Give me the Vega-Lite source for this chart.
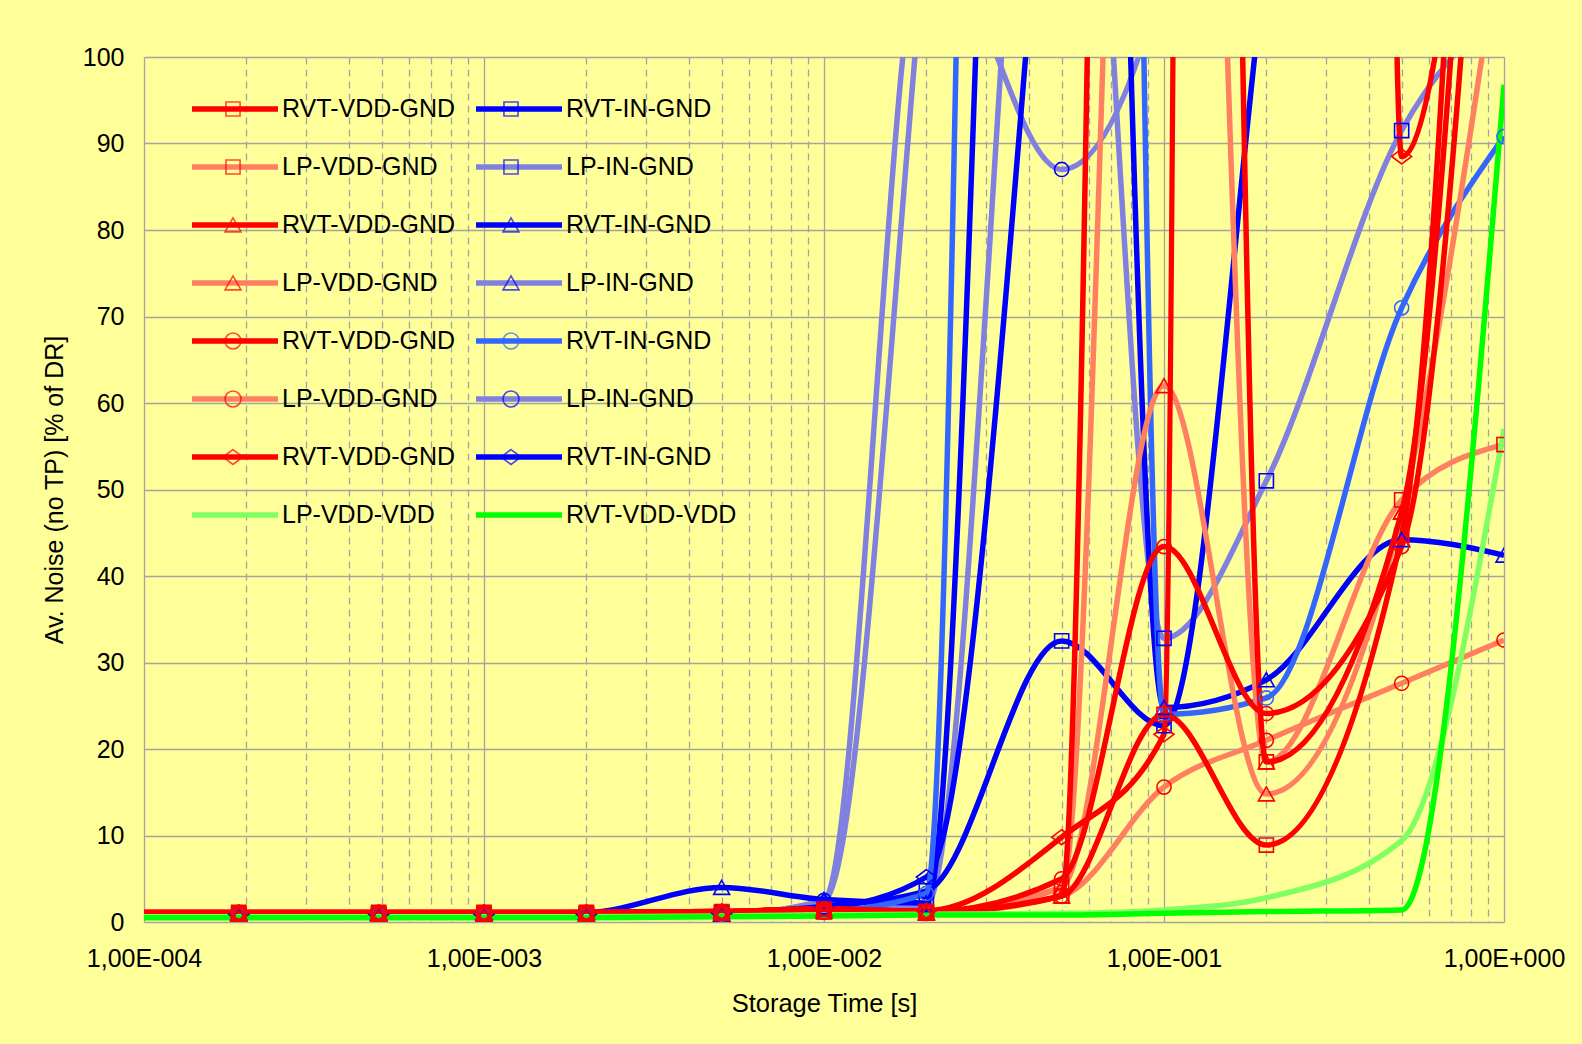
{
  "$schema": "https://vega.github.io/schema/vega-lite/v6.json",
  "autosize": "none",
  "width": 1360,
  "height": 865,
  "padding": {"left": 144, "top": 57, "right": 78, "bottom": 122},
  "background": "#FFFF99",
  "config": {
    "font": "Liberation Sans",
    "view": {"stroke": null},
    "axis": {"labelColor": "#000000", "titleColor": "#000000"}
  },
  "datasets": {
    "series": [
      {"s":"LP-IN-GND|sq","t":0.0001,"v":0.8},{"s":"LP-IN-GND|sq","t":0.00019,"v":0.8},{"s":"LP-IN-GND|sq","t":0.00049,"v":0.8},{"s":"LP-IN-GND|sq","t":0.001,"v":0.8},{"s":"LP-IN-GND|sq","t":0.002,"v":0.8},{"s":"LP-IN-GND|sq","t":0.005,"v":0.9},{"s":"LP-IN-GND|sq","t":0.01,"v":1.2},{"s":"LP-IN-GND|sq","t":0.02,"v":2.0},{"s":"LP-IN-GND|sq","t":0.05,"v":170},{"s":"LP-IN-GND|sq","t":0.1,"v":32.8},{"s":"LP-IN-GND|sq","t":0.2,"v":51},{"s":"LP-IN-GND|sq","t":0.5,"v":91.5},{"s":"LP-IN-GND|sq","t":1,"v":106},
      {"s":"LP-IN-GND|tri","t":0.0001,"v":0.8},{"s":"LP-IN-GND|tri","t":0.00019,"v":0.8},{"s":"LP-IN-GND|tri","t":0.00049,"v":0.8},{"s":"LP-IN-GND|tri","t":0.001,"v":0.8},{"s":"LP-IN-GND|tri","t":0.002,"v":0.8},{"s":"LP-IN-GND|tri","t":0.005,"v":0.9},{"s":"LP-IN-GND|tri","t":0.01,"v":2.4},{"s":"LP-IN-GND|tri","t":0.02,"v":115},{"s":"LP-IN-GND|tri","t":0.05,"v":300},{"s":"LP-IN-GND|tri","t":0.1,"v":400},{"s":"LP-IN-GND|tri","t":0.2,"v":500},{"s":"LP-IN-GND|tri","t":0.5,"v":600},{"s":"LP-IN-GND|tri","t":1,"v":700},
      {"s":"LP-IN-GND|circ","t":0.0001,"v":0.8},{"s":"LP-IN-GND|circ","t":0.00019,"v":0.8},{"s":"LP-IN-GND|circ","t":0.00049,"v":0.8},{"s":"LP-IN-GND|circ","t":0.001,"v":0.8},{"s":"LP-IN-GND|circ","t":0.002,"v":0.8},{"s":"LP-IN-GND|circ","t":0.005,"v":0.9},{"s":"LP-IN-GND|circ","t":0.01,"v":2.5},{"s":"LP-IN-GND|circ","t":0.02,"v":115},{"s":"LP-IN-GND|circ","t":0.05,"v":87},{"s":"LP-IN-GND|circ","t":0.1,"v":110},{"s":"LP-IN-GND|circ","t":0.2,"v":200},{"s":"LP-IN-GND|circ","t":0.5,"v":300},{"s":"LP-IN-GND|circ","t":1,"v":400},
      {"s":"RVT-IN-GND|sq","t":0.0001,"v":0.9},{"s":"RVT-IN-GND|sq","t":0.00019,"v":0.9},{"s":"RVT-IN-GND|sq","t":0.00049,"v":0.9},{"s":"RVT-IN-GND|sq","t":0.001,"v":0.9},{"s":"RVT-IN-GND|sq","t":0.002,"v":0.9},{"s":"RVT-IN-GND|sq","t":0.005,"v":1.1},{"s":"RVT-IN-GND|sq","t":0.01,"v":1.8},{"s":"RVT-IN-GND|sq","t":0.02,"v":3.6},{"s":"RVT-IN-GND|sq","t":0.05,"v":32.5},{"s":"RVT-IN-GND|sq","t":0.1,"v":22.7},{"s":"RVT-IN-GND|sq","t":0.2,"v":112},{"s":"RVT-IN-GND|sq","t":0.5,"v":250},{"s":"RVT-IN-GND|sq","t":1,"v":400},
      {"s":"RVT-IN-GND|tri","t":0.0001,"v":1.0},{"s":"RVT-IN-GND|tri","t":0.00019,"v":1.0},{"s":"RVT-IN-GND|tri","t":0.00049,"v":1.0},{"s":"RVT-IN-GND|tri","t":0.001,"v":1.0},{"s":"RVT-IN-GND|tri","t":0.002,"v":1.1},{"s":"RVT-IN-GND|tri","t":0.005,"v":4.0},{"s":"RVT-IN-GND|tri","t":0.01,"v":2.6},{"s":"RVT-IN-GND|tri","t":0.02,"v":2.2},{"s":"RVT-IN-GND|tri","t":0.05,"v":325},{"s":"RVT-IN-GND|tri","t":0.1,"v":24.8},{"s":"RVT-IN-GND|tri","t":0.2,"v":28},{"s":"RVT-IN-GND|tri","t":0.5,"v":44.2},{"s":"RVT-IN-GND|tri","t":1,"v":42.4},
      {"s":"RVT-IN-GND|dia","t":0.0001,"v":0.9},{"s":"RVT-IN-GND|dia","t":0.00019,"v":0.9},{"s":"RVT-IN-GND|dia","t":0.00049,"v":0.9},{"s":"RVT-IN-GND|dia","t":0.001,"v":0.9},{"s":"RVT-IN-GND|dia","t":0.002,"v":0.9},{"s":"RVT-IN-GND|dia","t":0.005,"v":1.0},{"s":"RVT-IN-GND|dia","t":0.01,"v":1.6},{"s":"RVT-IN-GND|dia","t":0.02,"v":5.2},{"s":"RVT-IN-GND|dia","t":0.05,"v":150},{"s":"RVT-IN-GND|dia","t":0.1,"v":300},{"s":"RVT-IN-GND|dia","t":0.2,"v":400},{"s":"RVT-IN-GND|dia","t":0.5,"v":500},{"s":"RVT-IN-GND|dia","t":1,"v":600},
      {"s":"RVT-IN-GND|circ","t":0.0001,"v":0.8},{"s":"RVT-IN-GND|circ","t":0.00019,"v":0.8},{"s":"RVT-IN-GND|circ","t":0.00049,"v":0.8},{"s":"RVT-IN-GND|circ","t":0.001,"v":0.8},{"s":"RVT-IN-GND|circ","t":0.002,"v":0.8},{"s":"RVT-IN-GND|circ","t":0.005,"v":0.9},{"s":"RVT-IN-GND|circ","t":0.01,"v":1.2},{"s":"RVT-IN-GND|circ","t":0.02,"v":3.3},{"s":"RVT-IN-GND|circ","t":0.05,"v":780},{"s":"RVT-IN-GND|circ","t":0.1,"v":24.0},{"s":"RVT-IN-GND|circ","t":0.2,"v":25.9},{"s":"RVT-IN-GND|circ","t":0.5,"v":71},{"s":"RVT-IN-GND|circ","t":1,"v":90.8},
      {"s":"LP-VDD-GND|sq","t":0.0001,"v":0.9},{"s":"LP-VDD-GND|sq","t":0.00019,"v":0.9},{"s":"LP-VDD-GND|sq","t":0.00049,"v":0.9},{"s":"LP-VDD-GND|sq","t":0.001,"v":0.9},{"s":"LP-VDD-GND|sq","t":0.002,"v":0.9},{"s":"LP-VDD-GND|sq","t":0.005,"v":1.0},{"s":"LP-VDD-GND|sq","t":0.01,"v":1.2},{"s":"LP-VDD-GND|sq","t":0.02,"v":1.2},{"s":"LP-VDD-GND|sq","t":0.05,"v":4.0},{"s":"LP-VDD-GND|sq","t":0.1,"v":270},{"s":"LP-VDD-GND|sq","t":0.2,"v":18.5},{"s":"LP-VDD-GND|sq","t":0.5,"v":48.8},{"s":"LP-VDD-GND|sq","t":1,"v":55.2},
      {"s":"LP-VDD-GND|tri","t":0.0001,"v":0.9},{"s":"LP-VDD-GND|tri","t":0.00019,"v":0.9},{"s":"LP-VDD-GND|tri","t":0.00049,"v":0.9},{"s":"LP-VDD-GND|tri","t":0.001,"v":0.9},{"s":"LP-VDD-GND|tri","t":0.002,"v":0.9},{"s":"LP-VDD-GND|tri","t":0.005,"v":1.0},{"s":"LP-VDD-GND|tri","t":0.01,"v":1.2},{"s":"LP-VDD-GND|tri","t":0.02,"v":1.0},{"s":"LP-VDD-GND|tri","t":0.05,"v":4.0},{"s":"LP-VDD-GND|tri","t":0.1,"v":62},{"s":"LP-VDD-GND|tri","t":0.2,"v":14.8},{"s":"LP-VDD-GND|tri","t":0.5,"v":47.4},{"s":"LP-VDD-GND|tri","t":1,"v":117},
      {"s":"LP-VDD-GND|circ","t":0.0001,"v":0.9},{"s":"LP-VDD-GND|circ","t":0.00019,"v":0.9},{"s":"LP-VDD-GND|circ","t":0.00049,"v":0.9},{"s":"LP-VDD-GND|circ","t":0.001,"v":0.9},{"s":"LP-VDD-GND|circ","t":0.002,"v":0.9},{"s":"LP-VDD-GND|circ","t":0.005,"v":1.0},{"s":"LP-VDD-GND|circ","t":0.01,"v":1.1},{"s":"LP-VDD-GND|circ","t":0.02,"v":1.0},{"s":"LP-VDD-GND|circ","t":0.05,"v":3.0},{"s":"LP-VDD-GND|circ","t":0.1,"v":15.6},{"s":"LP-VDD-GND|circ","t":0.2,"v":21},{"s":"LP-VDD-GND|circ","t":0.5,"v":27.6},{"s":"LP-VDD-GND|circ","t":1,"v":32.6},
      {"s":"RVT-VDD-GND|sq","t":0.0001,"v":1.1},{"s":"RVT-VDD-GND|sq","t":0.00019,"v":1.1},{"s":"RVT-VDD-GND|sq","t":0.00049,"v":1.1},{"s":"RVT-VDD-GND|sq","t":0.001,"v":1.1},{"s":"RVT-VDD-GND|sq","t":0.002,"v":1.1},{"s":"RVT-VDD-GND|sq","t":0.005,"v":1.2},{"s":"RVT-VDD-GND|sq","t":0.01,"v":1.5},{"s":"RVT-VDD-GND|sq","t":0.02,"v":1.2},{"s":"RVT-VDD-GND|sq","t":0.05,"v":3.0},{"s":"RVT-VDD-GND|sq","t":0.1,"v":24.0},{"s":"RVT-VDD-GND|sq","t":0.2,"v":8.9},{"s":"RVT-VDD-GND|sq","t":0.5,"v":44.7},{"s":"RVT-VDD-GND|sq","t":1,"v":250},
      {"s":"RVT-VDD-GND|tri","t":0.0001,"v":1.1},{"s":"RVT-VDD-GND|tri","t":0.00019,"v":1.1},{"s":"RVT-VDD-GND|tri","t":0.00049,"v":1.1},{"s":"RVT-VDD-GND|tri","t":0.001,"v":1.1},{"s":"RVT-VDD-GND|tri","t":0.002,"v":1.1},{"s":"RVT-VDD-GND|tri","t":0.005,"v":1.2},{"s":"RVT-VDD-GND|tri","t":0.01,"v":1.5},{"s":"RVT-VDD-GND|tri","t":0.02,"v":1.1},{"s":"RVT-VDD-GND|tri","t":0.05,"v":3.0},{"s":"RVT-VDD-GND|tri","t":0.1,"v":620},{"s":"RVT-VDD-GND|tri","t":0.2,"v":18.5},{"s":"RVT-VDD-GND|tri","t":0.5,"v":47.4},{"s":"RVT-VDD-GND|tri","t":1,"v":200},
      {"s":"RVT-VDD-GND|circ","t":0.0001,"v":1.1},{"s":"RVT-VDD-GND|circ","t":0.00019,"v":1.1},{"s":"RVT-VDD-GND|circ","t":0.00049,"v":1.1},{"s":"RVT-VDD-GND|circ","t":0.001,"v":1.1},{"s":"RVT-VDD-GND|circ","t":0.002,"v":1.1},{"s":"RVT-VDD-GND|circ","t":0.005,"v":1.2},{"s":"RVT-VDD-GND|circ","t":0.01,"v":1.5},{"s":"RVT-VDD-GND|circ","t":0.02,"v":1.2},{"s":"RVT-VDD-GND|circ","t":0.05,"v":5.0},{"s":"RVT-VDD-GND|circ","t":0.1,"v":43.4},{"s":"RVT-VDD-GND|circ","t":0.2,"v":24.1},{"s":"RVT-VDD-GND|circ","t":0.5,"v":43.4},{"s":"RVT-VDD-GND|circ","t":1,"v":170},
      {"s":"RVT-VDD-GND|dia","t":0.0001,"v":1.1},{"s":"RVT-VDD-GND|dia","t":0.00019,"v":1.1},{"s":"RVT-VDD-GND|dia","t":0.00049,"v":1.1},{"s":"RVT-VDD-GND|dia","t":0.001,"v":1.1},{"s":"RVT-VDD-GND|dia","t":0.002,"v":1.1},{"s":"RVT-VDD-GND|dia","t":0.005,"v":1.2},{"s":"RVT-VDD-GND|dia","t":0.01,"v":1.5},{"s":"RVT-VDD-GND|dia","t":0.02,"v":1.3},{"s":"RVT-VDD-GND|dia","t":0.05,"v":9.8},{"s":"RVT-VDD-GND|dia","t":0.1,"v":21.7},{"s":"RVT-VDD-GND|dia","t":0.2,"v":3500},{"s":"RVT-VDD-GND|dia","t":0.5,"v":88.5},{"s":"RVT-VDD-GND|dia","t":1,"v":170},
      {"s":"LP-VDD-VDD|none","t":0.0001,"v":0.6},{"s":"LP-VDD-VDD|none","t":0.00019,"v":0.6},{"s":"LP-VDD-VDD|none","t":0.00049,"v":0.6},{"s":"LP-VDD-VDD|none","t":0.001,"v":0.6},{"s":"LP-VDD-VDD|none","t":0.002,"v":0.6},{"s":"LP-VDD-VDD|none","t":0.005,"v":0.7},{"s":"LP-VDD-VDD|none","t":0.01,"v":0.8},{"s":"LP-VDD-VDD|none","t":0.02,"v":0.9},{"s":"LP-VDD-VDD|none","t":0.05,"v":1.0},{"s":"LP-VDD-VDD|none","t":0.1,"v":1.4},{"s":"LP-VDD-VDD|none","t":0.2,"v":2.8},{"s":"LP-VDD-VDD|none","t":0.5,"v":9.4},{"s":"LP-VDD-VDD|none","t":1,"v":57},
      {"s":"RVT-VDD-VDD|none","t":0.0001,"v":0.5},{"s":"RVT-VDD-VDD|none","t":0.00019,"v":0.5},{"s":"RVT-VDD-VDD|none","t":0.00049,"v":0.5},{"s":"RVT-VDD-VDD|none","t":0.001,"v":0.5},{"s":"RVT-VDD-VDD|none","t":0.002,"v":0.5},{"s":"RVT-VDD-VDD|none","t":0.005,"v":0.6},{"s":"RVT-VDD-VDD|none","t":0.01,"v":0.7},{"s":"RVT-VDD-VDD|none","t":0.02,"v":0.8},{"s":"RVT-VDD-VDD|none","t":0.05,"v":0.8},{"s":"RVT-VDD-VDD|none","t":0.1,"v":1.0},{"s":"RVT-VDD-VDD|none","t":0.2,"v":1.2},{"s":"RVT-VDD-VDD|none","t":0.5,"v":1.4},{"s":"RVT-VDD-VDD|none","t":1,"v":96.8}
    ]
  },
  "data": {"name": "series"},
  "encoding": {
    "x": {
      "field": "t", "type": "quantitative",
      "scale": {"type": "log", "domain": [0.0001, 1], "nice": false},
      "axis": {
        "values": [0.0001, 0.0002, 0.0003, 0.0004, 0.0005, 0.0006, 0.0007, 0.0008, 0.0009, 0.001, 0.002, 0.003, 0.004, 0.005, 0.006, 0.007, 0.008, 0.009, 0.01, 0.02, 0.03, 0.04, 0.05, 0.06, 0.07, 0.08, 0.09, 0.1, 0.2, 0.3, 0.4, 0.5, 0.6, 0.7, 0.8, 0.9, 1],
        "labelExpr": "abs(log(datum.value) / LN10 - round(log(datum.value) / LN10)) < 0.01 ? ('1,00E' + (datum.value < 0.5 ? '-' : '+') + pad(toString(round(abs(log(datum.value) / LN10))), 3, '0', 'left')) : ''",
        "grid": true, "gridColor": "#A3A3A3", "gridWidth": 1.3,
        "gridDash": {"condition": {"test": "abs(log(datum.value) / LN10 - round(log(datum.value) / LN10)) < 0.01", "value": [1, 0]}, "value": [7, 5]},
        "domain": false, "ticks": false,
        "labelFontSize": 25, "labelPadding": 24, "labelFlush": false, "labelOverlap": false,
        "title": "Storage Time [s]", "titleFontSize": 25.5, "titleFontWeight": "normal", "titlePadding": 20
      }
    },
    "y": {
      "field": "v", "type": "quantitative",
      "scale": {"domain": [0, 100], "nice": false, "zero": false},
      "axis": {
        "values": [0, 10, 20, 30, 40, 50, 60, 70, 80, 90, 100],
        "grid": true, "gridColor": "#A3A3A3", "gridWidth": 1.3,
        "domain": false, "ticks": false,
        "labelFontSize": 25, "labelPadding": 20,
        "title": "Av. Noise (no TP) [% of DR]", "titleFontSize": 25, "titleFontWeight": "normal", "titlePadding": 15
      }
    }
  },
  "layer": [
    {
      "mark": {"type": "line", "interpolate": "monotone", "strokeWidth": 5.5, "clip": true, "strokeJoin": "round"},
      "encoding": {
        "color": {
          "field": "s", "type": "nominal",
          "scale": {
            "domain": ["RVT-VDD-GND|sq","LP-VDD-GND|sq","RVT-VDD-GND|tri","LP-VDD-GND|tri","RVT-VDD-GND|circ","LP-VDD-GND|circ","RVT-VDD-GND|dia","LP-VDD-VDD|none","RVT-IN-GND|sq","LP-IN-GND|sq","RVT-IN-GND|tri","LP-IN-GND|tri","RVT-IN-GND|circ","LP-IN-GND|circ","RVT-IN-GND|dia","RVT-VDD-VDD|none"],
            "range": ["#FF0000","#FF8060","#FF0000","#FF8060","#FF0000","#FF8060","#FF0000","#80FF60","#0000FF","#8080E0","#0000FF","#8080E0","#3366FF","#8080E0","#0000FF","#00FF00"]
          },
          "legend": {
            "orient": "none", "legendX": 45, "legendY": 39, "columns": 2, "title": null, "padding": 0,
            "symbolType": "stroke", "symbolSize": 7396, "symbolStrokeWidth": 5.5,
            "labelFontSize": 25, "labelColor": "#000000", "labelOffset": 1, "labelLimit": 400,
            "columnPadding": 17, "rowPadding": 32, "clipHeight": 26,
            "labelExpr": "split(datum.label, '|')[0]"
          }
        }
      }
    },
    {
      "transform": [{"filter": "datum.t > 0.00015 && indexof(datum.s, 'VDD-VDD') < 0"}],
      "mark": {"type": "point", "filled": false, "size": 200, "strokeWidth": 1.6, "clip": true, "opacity": 1},
      "encoding": {
        "color": {
          "field": "s", "type": "nominal", "legend": null,
          "scale": {
            "domain": ["RVT-VDD-GND|sq","RVT-IN-GND|sq","LP-VDD-GND|sq","LP-IN-GND|sq","RVT-VDD-GND|tri","RVT-IN-GND|tri","LP-VDD-GND|tri","LP-IN-GND|tri","RVT-VDD-GND|circ","RVT-IN-GND|circ","LP-VDD-GND|circ","LP-IN-GND|circ","RVT-VDD-GND|dia","RVT-IN-GND|dia"],
            "range": ["#FF0000","#0000FF","#FF0000","#0000FF","#FF0000","#0000FF","#FF0000","#0000FF","#FF0000","#3366FF","#FF0000","#0000FF","#FF0000","#0000FF"]
          }
        },
        "shape": {
          "field": "s", "type": "nominal", "legend": null,
          "scale": {
            "domain": ["RVT-VDD-GND|sq","RVT-IN-GND|sq","LP-VDD-GND|sq","LP-IN-GND|sq","RVT-VDD-GND|tri","RVT-IN-GND|tri","LP-VDD-GND|tri","LP-IN-GND|tri","RVT-VDD-GND|circ","RVT-IN-GND|circ","LP-VDD-GND|circ","LP-IN-GND|circ","RVT-VDD-GND|dia","RVT-IN-GND|dia"],
            "range": ["square","square","square","square","M0,-1L1.13,0.98L-1.13,0.98Z","M0,-1L1.13,0.98L-1.13,0.98Z","M0,-1L1.13,0.98L-1.13,0.98Z","M0,-1L1.13,0.98L-1.13,0.98Z","circle","circle","circle","circle","M0,-1.06L1.41,0L0,1.06L-1.41,0Z","M0,-1.06L1.41,0L0,1.06L-1.41,0Z"]
          }
        }
      }
    },
    {
      "transform": [{"filter": "datum.t < 0"}],
      "mark": {"type": "point", "filled": false, "strokeWidth": 1.6},
      "encoding": {
        "color": {
          "field": "s", "type": "nominal",
          "scale": {
            "domain": ["RVT-VDD-GND|sq","LP-VDD-GND|sq","RVT-VDD-GND|tri","LP-VDD-GND|tri","RVT-VDD-GND|circ","LP-VDD-GND|circ","RVT-VDD-GND|dia","LP-VDD-VDD|none","RVT-IN-GND|sq","LP-IN-GND|sq","RVT-IN-GND|tri","LP-IN-GND|tri","RVT-IN-GND|circ","LP-IN-GND|circ","RVT-IN-GND|dia","RVT-VDD-VDD|none"],
            "range": ["#FF0000","#FF0000","#FF0000","#FF0000","#FF0000","#FF0000","#FF0000","#80FF60","#0000FF","#0000FF","#0000FF","#0000FF","#3366FF","#0000FF","#0000FF","#00FF00"]
          },
          "legend": {
            "orient": "none", "legendX": 45, "legendY": 39, "columns": 2, "title": null, "padding": 0,
            "symbolSize": 7396, "symbolStrokeWidth": 1.6, "symbolFillColor": "transparent",
            "labelFontSize": 25, "labelOffset": 1, "labelLimit": 400,
            "columnPadding": 189, "rowPadding": 32, "clipHeight": 26,
            "labelExpr": "' '"
          }
        },
        "shape": {
          "field": "s", "type": "nominal",
          "scale": {
            "domain": ["RVT-VDD-GND|sq","LP-VDD-GND|sq","RVT-VDD-GND|tri","LP-VDD-GND|tri","RVT-VDD-GND|circ","LP-VDD-GND|circ","RVT-VDD-GND|dia","LP-VDD-VDD|none","RVT-IN-GND|sq","LP-IN-GND|sq","RVT-IN-GND|tri","LP-IN-GND|tri","RVT-IN-GND|circ","LP-IN-GND|circ","RVT-IN-GND|dia","RVT-VDD-VDD|none"],
            "range": [
              "M-1,0L-1,0M1,0L1,0M-0.164,-0.164L0.164,-0.164L0.164,0.164L-0.164,0.164Z",
              "M-1,0L-1,0M1,0L1,0M-0.164,-0.164L0.164,-0.164L0.164,0.164L-0.164,0.164Z",
              "M-1,0L-1,0M1,0L1,0M0,-0.164L0.186,0.161L-0.186,0.161Z",
              "M-1,0L-1,0M1,0L1,0M0,-0.164L0.186,0.161L-0.186,0.161Z",
              "M-1,0L-1,0M1,0L1,0M-0.186,0A0.186,0.186 0 1 0 0.186,0A0.186,0.186 0 1 0 -0.186,0Z",
              "M-1,0L-1,0M1,0L1,0M-0.186,0A0.186,0.186 0 1 0 0.186,0A0.186,0.186 0 1 0 -0.186,0Z",
              "M-1,0L-1,0M1,0L1,0M0,-0.174L0.233,0L0,0.174L-0.233,0Z",
              "M-1,0L-1,0M1,0L1,0",
              "M-1,0L-1,0M1,0L1,0M-0.164,-0.164L0.164,-0.164L0.164,0.164L-0.164,0.164Z",
              "M-1,0L-1,0M1,0L1,0M-0.164,-0.164L0.164,-0.164L0.164,0.164L-0.164,0.164Z",
              "M-1,0L-1,0M1,0L1,0M0,-0.164L0.186,0.161L-0.186,0.161Z",
              "M-1,0L-1,0M1,0L1,0M0,-0.164L0.186,0.161L-0.186,0.161Z",
              "M-1,0L-1,0M1,0L1,0M-0.186,0A0.186,0.186 0 1 0 0.186,0A0.186,0.186 0 1 0 -0.186,0Z",
              "M-1,0L-1,0M1,0L1,0M-0.186,0A0.186,0.186 0 1 0 0.186,0A0.186,0.186 0 1 0 -0.186,0Z",
              "M-1,0L-1,0M1,0L1,0M0,-0.174L0.233,0L0,0.174L-0.233,0Z",
              "M-1,0L-1,0M1,0L1,0"
            ]
          },
          "legend": {
            "orient": "none", "legendX": 45, "legendY": 39, "columns": 2, "title": null, "padding": 0,
            "symbolSize": 7396, "symbolStrokeWidth": 1.6, "symbolFillColor": "transparent",
            "labelFontSize": 25, "labelOffset": 1, "labelLimit": 400,
            "columnPadding": 189, "rowPadding": 32, "clipHeight": 26,
            "labelExpr": "' '"
          }
        }
      }
    }
  ],
  "resolve": {"scale": {"color": "independent", "shape": "independent"}}
}
